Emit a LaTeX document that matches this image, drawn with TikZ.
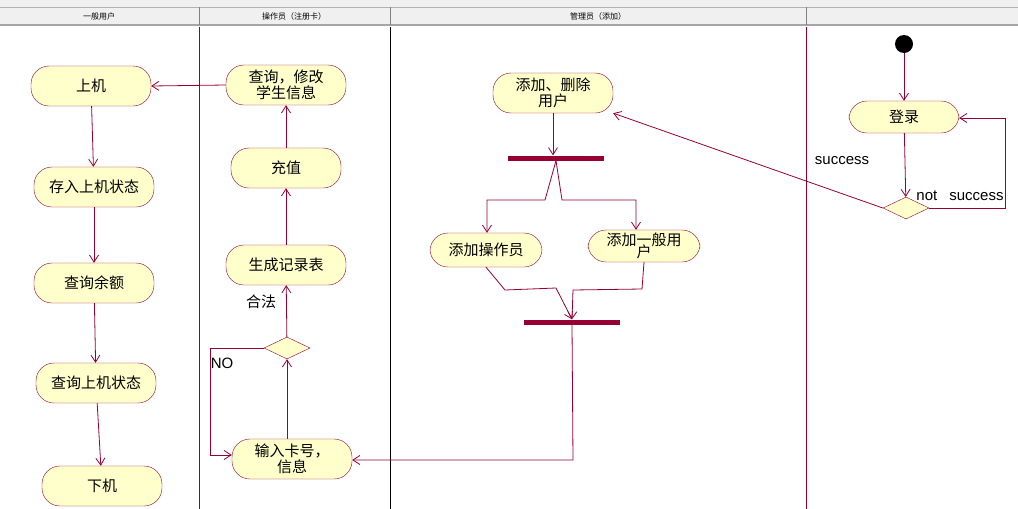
\documentclass[tikz,border=0pt]{standalone}
\usepackage{fontspec}
\setmainfont{Liberation Sans}
\newfontfamily\cjk{Noto Sans CJK SC}
\usetikzlibrary{arrows.meta,shapes.geometric,positioning}
\definecolor{umlred}{RGB}{150,0,50}
\definecolor{umlfill}{RGB}{255,255,204}
\definecolor{headgray}{RGB}{240,240,240}
\tikzset{
	act/.style={draw=umlred,fill=umlfill,rounded corners=18pt,minimum width=120pt,minimum height=40pt,align=center,font=\cjk\fontsize{15}{16}\selectfont,inner sep=1pt},
	dec/.style={draw=umlred,fill=umlfill,diamond,aspect=2.1,minimum width=46pt,minimum height=22pt,inner sep=0pt},
	bar/.style={fill=umlred,minimum height=5pt,inner sep=0pt},
	flow/.style={draw=umlred,line width=0.8pt,-{Straight Barb[length=7pt,width=9pt]}},
	lbl/.style={font=\fontsize{15}{16}\selectfont}
}
\begin{document}
\begin{tikzpicture}[x=1pt,y=-1pt]
\useasboundingbox (0,0) rectangle (1018,509);
% header
\fill[headgray] (0,0) rectangle (1018,25);
\draw[gray!60] (0,7) -- (1018,7);
\draw[gray!70,line width=1.5pt] (0,25) -- (1018,25);
\foreach \x in {199,390,806} {
	\draw[gray] (\x,7) -- (\x,25);
}
\foreach \x in {199,806} {
	\draw[umlred] (\x,27) -- (\x,509);
}
\draw (390,27) -- (390,509);
\node[font=\cjk\fontsize{8}{9}\selectfont] (h1) at (99,16) {一般用户};
\node[font=\cjk\fontsize{8}{9}\selectfont] (h2) at (294,16) {操作员（注册卡）};
\node[font=\cjk\fontsize{8}{9}\selectfont] (h3) at (598,16) {管理员（添加）};
% user lane
\node[act] (on) at (91,86) {上机};
\node[act] (save) at (94,187) {存入上机状态};
\node[act] (bal) at (94,283) {查询余额};
\node[act] (state) at (96,383) {查询上机状态};
\node[act] (off) at (102,486) {下机};
% operator lane
\node[act] (query) at (286,85) {查询，修改\\学生信息};
\node[act,minimum width=110pt] (charge) at (286,168) {充值};
\node[act] (record) at (286,265) {生成记录表};
\node[dec] (check) at (287,348) {};
\node[act] (input) at (292,459) {输入卡号，\\信息};
% admin lane
\node[act] (manage) at (553,93) {添加、删除\\用户};
\node[bar,minimum width=96pt] (fork) at (556,158) {};
\node[act,minimum width=112pt,minimum height=34pt] (addop) at (486,250) {添加操作员};
\node[act,minimum width=112pt,minimum height=32pt,font=\cjk\fontsize{15}{15}\selectfont] (adduser) at (644,246) {添加一般用\\[-3pt]户};
\node[bar,minimum width=96pt] (join) at (572,322) {};
% login lane
\node[circle,fill=black,minimum size=18pt,inner sep=0pt] (start) at (904,44) {};
\node[act,minimum width=110pt,minimum height=32pt] (login) at (904,117) {登录};
\node[dec] (ok) at (906,208) {};
\coordinate (okr) at (1005,208);
\coordinate (okt) at (1005,118);
\coordinate (nol) at (210,348);
\coordinate (nob) at (210,455);
\coordinate (jb) at (573,460);
% flows
\draw[flow] (query.west) -- (on.east);
\draw[flow] (on) -- (save);
\draw[flow] (save) -- (bal);
\draw[flow] (bal) -- (state);
\draw[flow] (state) -- (off);
\draw[flow] (input.north -| check) -- (check);
\draw[flow] (check) -- (record);
\draw[flow] (record) -- (charge);
\draw[flow] (charge) -- (query);
\draw[flow] (check.west) -- (nol) -- (nob) -- (input.west |- nob);
\draw[flow] (join.south) -- (jb) -- (input.east |- jb);
\draw[flow] (start) -- (login);
\draw[flow] (login) -- (ok);
\draw[flow] (ok.east) -- (okr) -- (okt) -- (login.east |- okt);
\draw[flow] (ok.west) -- (manage.south east);
\draw[flow] (manage) -- (manage |- fork.north);
\draw[flow] (fork.south) -- (545,200) -- (487,200) -- (addop.north -| 487,0);
\draw[flow] (fork.south) -- (562,200) -- (636,200) -- (adduser.north -| 636,0);
\draw[flow] (addop.south) -- (505,290) -- (556,288) -- (join.north);
\draw[flow] (adduser.south) -- (642,289) -- (573,290) -- (join.north);
% labels
\node[lbl] (lok) at (842,161) {success};
\node[lbl] (lno) at (960,196) {not\hspace{12pt}success};
\node[lbl] (lfail) at (222,363) {NO};
\node[lbl,font=\cjk\fontsize{15}{16}\selectfont] (llegal) at (261,302) {合法};
\end{tikzpicture}
\end{document}
